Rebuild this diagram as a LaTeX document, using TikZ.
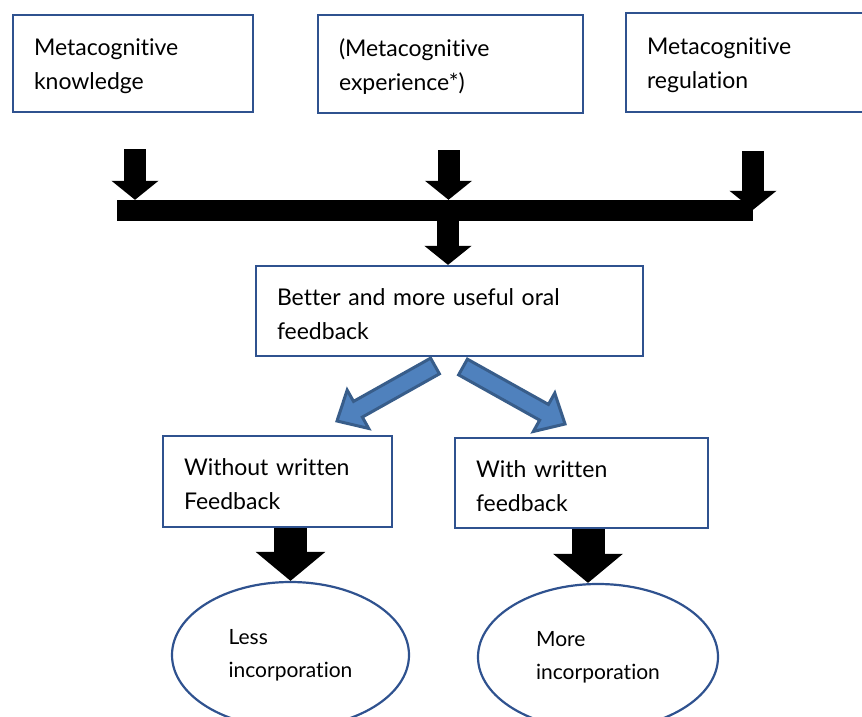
\documentclass[tikz,border=0pt]{standalone}
\usepackage{fontspec}
\setmainfont{Lato}[Ligatures=NoCommon]
\usepackage{tikz}
\usetikzlibrary{positioning}
\usetikzlibrary{arrows.meta}
\usetikzlibrary{calc}
\usetikzlibrary{shapes.geometric}
\definecolor{boxblue}{HTML}{2F528F}
\definecolor{arrowfill}{HTML}{4F81BD}
\definecolor{arrowline}{HTML}{385D8A}
\tikzset {
  % boxes with left aligned text
  box/.style = {draw=boxblue, line width=2.2pt, rectangle, align=left, inner xsep=21pt,
    font=\fontsize{23}{34}\selectfont, execute at begin node={\rule{0pt}{23pt}}},
  % result ovals
  oval/.style = {draw=boxblue, line width=2.2pt, ellipse, align=left, inner sep=0pt,
    font=\fontsize{21}{33}\selectfont},
  % black block arrows
  blackarrow/.style={line width=22pt, -{Triangle[width=46pt, length=19pt]}},
  bigarrow/.style={line width=33pt, -{Triangle[width=68pt, length=29pt]}},
  % blue block arrows
  bluearrow/.style={fill=arrowfill, draw=arrowline, line width=3pt, line join=miter},
}
% fat blue arrow from #1 to #2
\newcommand{\fatarrow}[2]{%
  \coordinate (fa-h) at ($(#2)!24pt!(#1)$);
  \filldraw[bluearrow] ($(#1)!9pt!90:(#2)$) -- ($(fa-h)!9pt!-90:(#1)$)
    -- ($(fa-h)!22pt!-90:(#1)$) -- (#2) -- ($(fa-h)!22pt!90:(#1)$)
    -- ($(fa-h)!9pt!90:(#1)$) -- ($(#1)!9pt!-90:(#2)$) -- cycle;}

\begin{document}
\begin{tikzpicture}[x=1pt, y=-1pt]
        \useasboundingbox (0,0) rectangle (862,716);

        \node[box, text width=198pt, minimum height=97pt] (know) at (133,63.5) {Metacognitive\\knowledge};
        \node[box, text width=223pt, minimum height=98pt] (exper) at (450.5,64) {(Metacognitive\\experience*)};
        \node[box, text width=198pt, minimum height=99pt] (regul) at (746,62.5) {Metacognitive\\regulation};

        \node[fill=black, inner sep=0pt, minimum width=636pt, minimum height=21pt] (bar) at (435,210.5) {};

        \node[box, text width=345pt, minimum height=90pt] (oral) at (449.5,311) {Better and more useful oral\\feedback};
        \node[box, text width=187pt, minimum height=91pt] (without) at (277.5,481.5) {Without written\\Feedback};
        \node[box, text width=211pt, minimum height=90pt] (with) at (581.5,483) {With written\\feedback};

        \node[oval, minimum width=237pt, minimum height=146pt] (less) at (290.5,655) {Less\\incorporation};
        \node[oval, minimum width=240pt, minimum height=146pt] (more) at (598,657) {More\\incorporation};

        \draw [blackarrow, shorten <=36pt] ([xshift=2pt]know.south) -- ([xshift=2pt]know.south |- bar.north);
        \draw [blackarrow, shorten <=36pt] ([xshift=-2pt]exper.south) -- ([xshift=-2pt]exper.south |- bar.north);
        \draw [blackarrow, shorten <=38pt, shorten >=-10pt] ([xshift=7pt]regul.south) -- ([xshift=7pt]regul.south |- bar.north);
        \draw [blackarrow] ([xshift=13pt]bar.south) -- ([xshift=13pt]bar.south |- oral.north);

        \coordinate (t1) at (435,366);
        \coordinate (p1) at (337,421);
        \coordinate (t2) at (463,367);
        \coordinate (p2) at (565,424);
        \fatarrow{t1}{p1}
        \fatarrow{t2}{p2}

        \draw [bigarrow] (less.north |- without.south) -- (less.north);
        \draw [bigarrow] ([xshift=-10pt]more.north |- with.south) -- ([xshift=-10pt]more.north);
      \end{tikzpicture}
\end{document}
